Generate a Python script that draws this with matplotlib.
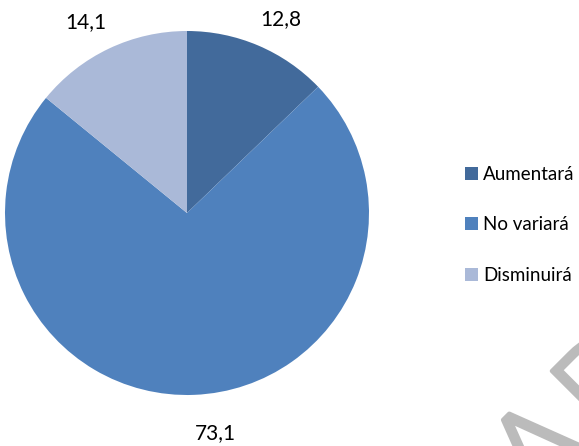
import numpy as np
import matplotlib.pyplot as plt
import matplotlib.patheffects as pe

labels = ['Aumentará', 'No variará', 'Disminuirá']
values = [12.8, 73.1, 14.1]
value_text = ['12,8', '73,1', '14,1']
colors = ['#426A9B', '#4F81BD', '#AAB9D8']

plt.rcParams['font.family'] = ['Lato', 'DejaVu Sans']

fig = plt.figure(figsize=(5.79, 4.46), dpi=100)
ax = fig.add_axes([5 / 579, 51 / 446, 364 / 579, 364 / 446])

wedges, _ = ax.pie(values, colors=colors, startangle=90, counterclock=False,
                   wedgeprops={'linewidth': 0})
ax.set_aspect('equal')
ax.set_xlim(-1, 1)
ax.set_ylim(-1, 1)

# value labels just outside the rim, Excel "outside end" style
for w, txt in zip(wedges, value_text):
    mid = np.deg2rad((w.theta1 + w.theta2) / 2)
    cx, cy = np.cos(mid), np.sin(mid)
    x = 1.03 * cx
    y = 1.1 * cy if cy >= 0 else 1.155 * cy
    ax.text(x, y, txt, fontsize=15, color='black',
            ha='left' if cx >= 0 else 'right',
            va='bottom' if cy >= 0 else 'top', clip_on=False)

fig.legend(wedges, labels, loc='center left', bbox_to_anchor=(465 / 579, 1 - 225 / 446),
           frameon=False, fontsize=13.5, handlelength=0.69, handleheight=0.69,
           handletextpad=0.27, labelspacing=1.8, borderpad=0, borderaxespad=0)

# watermark ("BORRADOR") that shows in the lower right corner
fig.text(0.829, -0.314, 'RADOR', fontsize=100, color='#BBBBBB', rotation=45,
         rotation_mode='anchor', family='DejaVu Sans', fontweight='light',
         ha='left', va='baseline', zorder=0,
         path_effects=[pe.withStroke(linewidth=3, foreground='#BBBBBB')])

fig.savefig('out.png', dpi=100)
